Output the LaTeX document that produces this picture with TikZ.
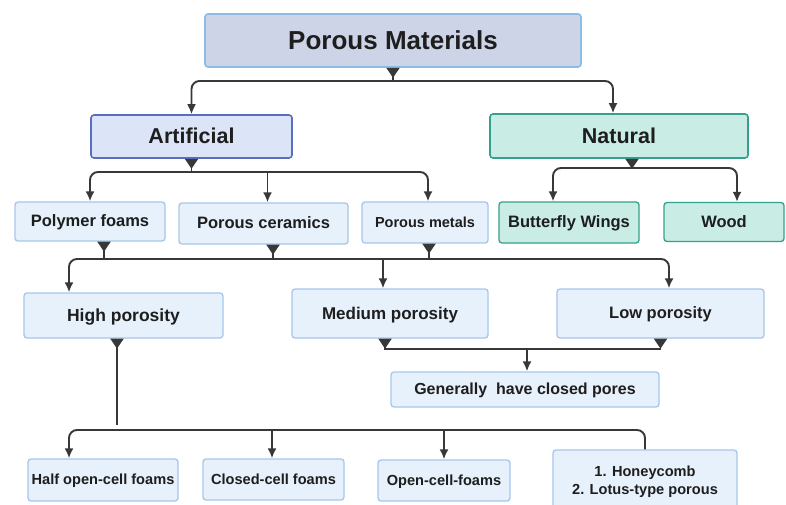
\documentclass[tikz,border=0pt]{standalone}
\usepackage{fontspec}
\setmainfont{Liberation Sans}
\usepackage{xcolor}
\usetikzlibrary{arrows.meta, positioning}

\definecolor{topfill}{HTML}{CED4E8}
\definecolor{topline}{HTML}{8CBBE6}
\definecolor{artfill}{HTML}{DCE5F8}
\definecolor{artline}{HTML}{5A6EC0}
\definecolor{natfill}{HTML}{C9ECE5}
\definecolor{natline}{HTML}{35A08D}
\definecolor{boxfill}{HTML}{E7F1FB}
\definecolor{boxline}{HTML}{A6C6EC}
\definecolor{wire}{HTML}{383838}
\definecolor{txt}{HTML}{1E1E1E}

\newcommand{\fs}[1]{\fontsize{#1}{1.2\dimexpr#1pt\relax}\selectfont\bfseries}

\begin{document}
\begin{tikzpicture}[x=1pt, y=-1pt,
	box/.style={rectangle, rounded corners=3pt, align=center, text=txt, inner sep=0pt, text depth=0.12em},
	topbox/.style={box, fill=topfill, draw=topline, line width=1.6pt, font=\fs{26}},
	artbox/.style={box, fill=artfill, draw=artline, line width=1.6pt, font=\fs{21.5}},
	natbox/.style={box, fill=natfill, draw=natline, line width=1.6pt, font=\fs{21.5}},
	leafbox/.style={box, fill=boxfill, draw=boxline, line width=1.3pt},
	greenbox/.style={box, fill=natfill, draw=natline, line width=1.3pt},
	wiring/.style={draw=wire, line width=1.9pt},
	arrow/.style={wiring, -{Latex[length=10pt,width=9pt]}},
	twoarrow/.style={wiring, rounded corners=8pt, {Latex[length=10pt,width=9pt]}-{Latex[length=10pt,width=9pt]}},
	stem/.style={wiring, {Triangle[reversed,length=10pt,width=13pt]}-},
	twostem/.style={wiring, {Triangle[reversed,length=10pt,width=13pt]}-{Triangle[reversed,length=10pt,width=13pt]}}]

	\clip (0,0) rectangle (786,505);
	\fill[white] (0,0) rectangle (786,505);

	% top level
	\node[topbox, minimum width=376, minimum height=53] (pm) at (393,40.5) {Porous Materials};
	\node[artbox, minimum width=201, minimum height=43] (art) at (191.5,136.5) {Artificial};
	\node[natbox, minimum width=258, minimum height=44] (nat) at (619,136) {Natural};

	% materials
	\node[leafbox, minimum width=150, minimum height=39, font=\fs{16.5}] (poly) at (90,221.5) {Polymer foams};
	\node[leafbox, minimum width=169, minimum height=41, font=\fs{16.5}] (cer) at (263.5,223.5) {Porous ceramics};
	\node[leafbox, minimum width=126, minimum height=41, font=\fs{14.5}] (met) at (425,222.5) {Porous metals};
	\node[greenbox, minimum width=140, minimum height=41, font=\fs{16.5}] (bw) at (569,222.5) {Butterfly Wings};
	\node[greenbox, minimum width=120, minimum height=39, font=\fs{16.5}] (wood) at (724,222) {Wood};

	% porosity
	\node[leafbox, minimum width=199, minimum height=45, font=\fs{17.5}] (high) at (123.5,315.5) {High porosity};
	\node[leafbox, minimum width=196, minimum height=49, font=\fs{17}] (med) at (390,313.5) {Medium porosity};
	\node[leafbox, minimum width=207, minimum height=49, font=\fs{16.5}] (low) at (660.5,313.5) {Low porosity};
	\node[leafbox, minimum width=268, minimum height=35, font=\fs{16}] (gen) at (525,389.5) {Generally\ \ have closed pores};

	% cell types
	\node[leafbox, minimum width=150, minimum height=42, font=\fs{14.6}] (half) at (103,480) {Half open-cell foams};
	\node[leafbox, minimum width=141, minimum height=41, font=\fs{14.6}] (closed) at (273.5,479.5) {Closed-cell foams};
	\node[leafbox, minimum width=132, minimum height=41, font=\fs{14.6}] (open) at (444,480.5) {Open-cell-foams};
	\node[leafbox, minimum width=184, minimum height=62, font=\fs{14.6}] (honey) at (645,481) {1. Honeycomb\\[0pt]2. Lotus-type porous};

	% bus lines
	\coordinate (bus1) at (0,81);
	\coordinate (bus2) at (0,172);
	\coordinate (bus3) at (0,168);
	\coordinate (bus4) at (0,259);
	\coordinate (bus5) at (0,349);
	\coordinate (bus6) at (0,430);

	% porous materials -> artificial, natural
	\draw[stem] (pm.south) -- (pm.south |- bus1);
	\draw[twoarrow] (art.north) -- (art.north |- bus1) -- ([xshift=-6pt]nat.north |- bus1) -- ([xshift=-6pt]nat.north);

	% artificial -> materials
	\draw[stem] (art.south) -- (art.south |- bus2);
	\draw[twoarrow] (poly.north) -- (poly.north |- bus2) -- ([xshift=3pt]met.north |- bus2) -- ([xshift=3pt]met.north);
	\draw[arrow] ([xshift=4pt]cer.north |- bus2) -- ([xshift=4pt]cer.north);

	% natural -> butterfly wings, wood
	\draw[stem] ([xshift=13pt]nat.south) -- ([xshift=13pt]nat.south |- bus3);
	\draw[twoarrow] ([xshift=-16pt]bw.north) -- ([xshift=-16pt]bw.north |- bus3) -- ([xshift=13pt]wood.north |- bus3) -- ([xshift=13pt]wood.north);

	% materials -> porosity
	\draw[stem] ([xshift=14pt]poly.south) -- ([xshift=14pt]poly.south |- bus4);
	\draw[stem] ([xshift=9.5pt]cer.south) -- ([xshift=9.5pt]cer.south |- bus4);
	\draw[stem] ([xshift=4pt]met.south) -- ([xshift=4pt]met.south |- bus4);
	\draw[twoarrow] ([xshift=-54.5pt]high.north) -- ([xshift=-54.5pt]high.north |- bus4) -- ([xshift=8.5pt]low.north |- bus4) -- ([xshift=8.5pt]low.north);
	\draw[arrow] ([xshift=-7pt]med.north |- bus4) -- ([xshift=-7pt]med.north);

	% medium, low -> closed pores
	\draw[twostem] ([xshift=-5pt]med.south) -- ([xshift=-5pt]med.south |- bus5) -- (low.south |- bus5) -- (low.south);
	\draw[arrow] ([xshift=2pt]gen.north |- bus5) -- ([xshift=2pt]gen.north);

	% high porosity -> cell types
	\draw[stem] ([xshift=-6.5pt]high.south) -- ++(0,86);
	\draw[wiring, rounded corners=8pt, {Latex[length=10pt,width=9pt]}-] ([xshift=-34pt]half.north) -- ([xshift=-34pt]half.north |- bus6) -- (honey.north |- bus6) -- (honey.north);
	\draw[arrow] ([xshift=-1.5pt]closed.north |- bus6) -- ([xshift=-1.5pt]closed.north);
	\draw[arrow] (open.north |- bus6) -- (open.north);

\end{tikzpicture}
\end{document}
